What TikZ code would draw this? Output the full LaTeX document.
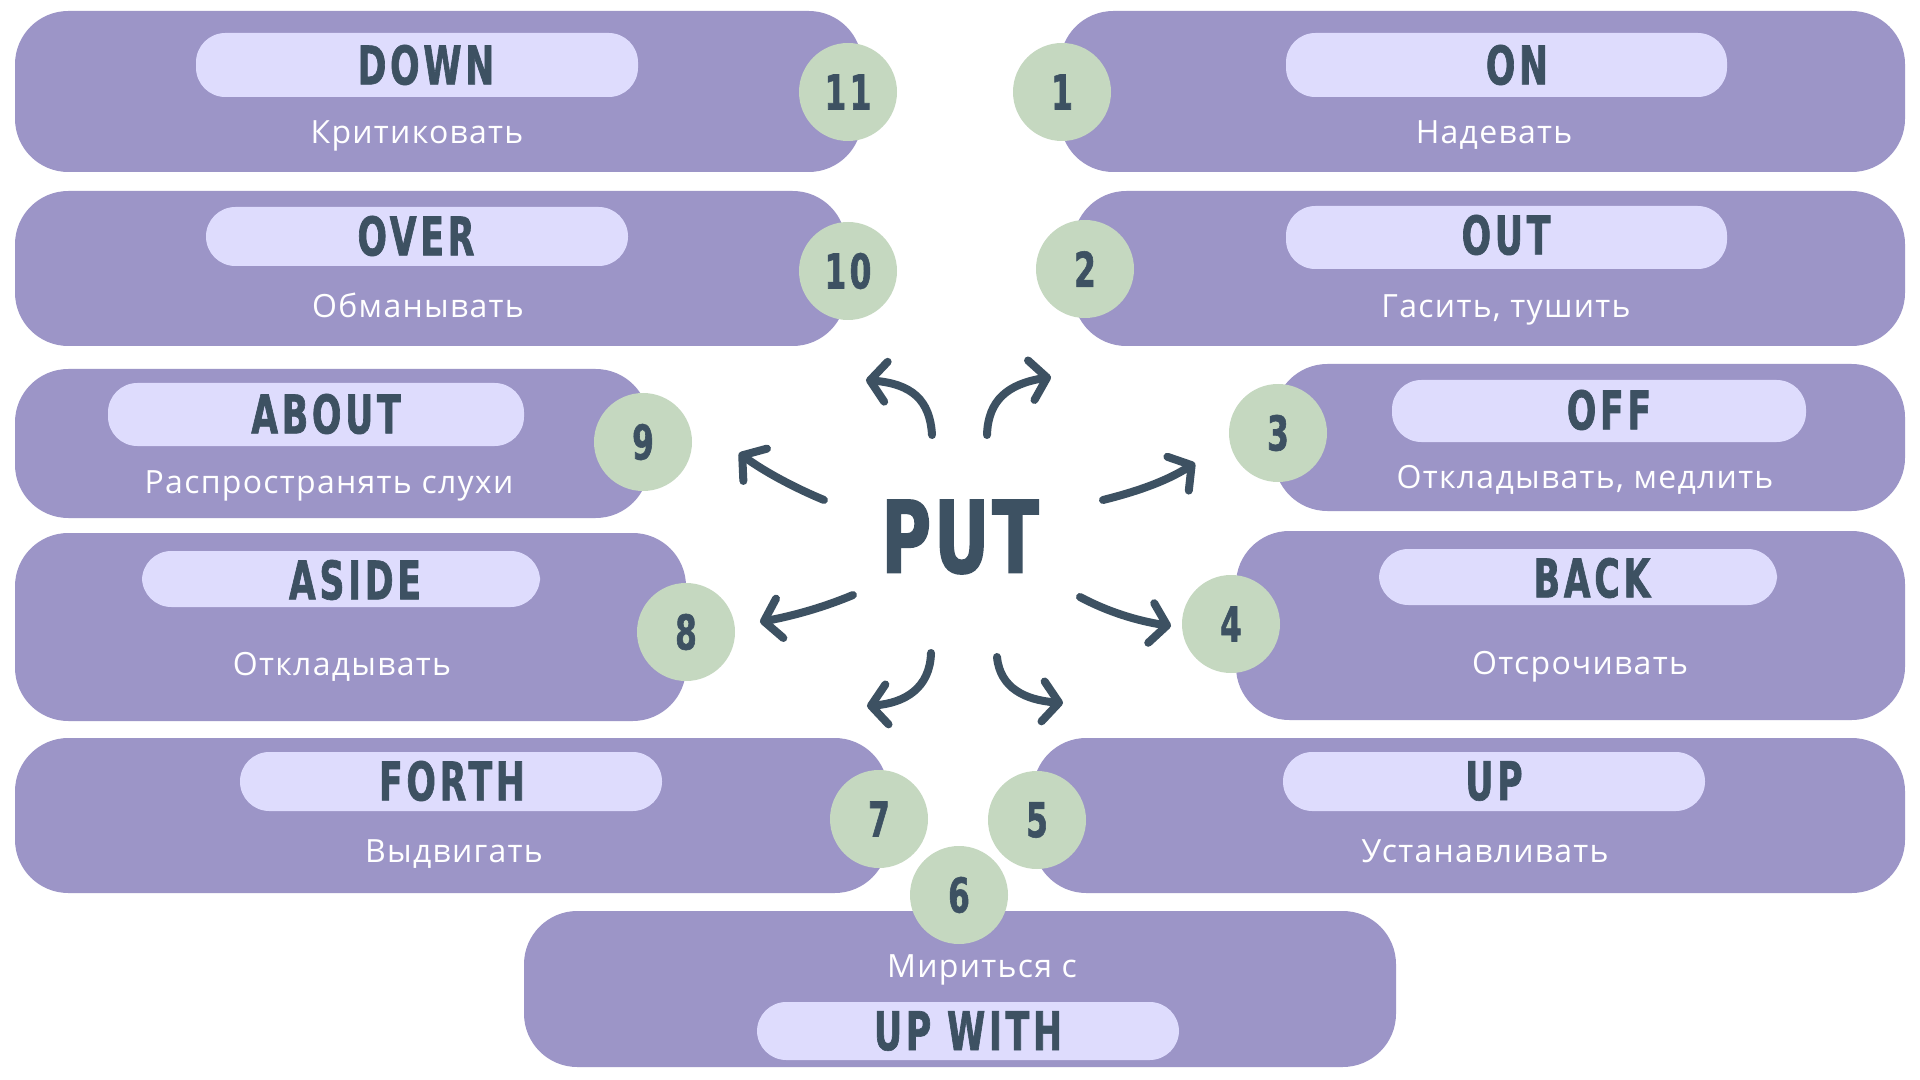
\documentclass[tikz,border=0pt]{standalone}
\usepackage{fontspec}
\setmainfont{Open Sans}
\newfontfamily\headfont[FakeStretch=0.65,LetterSpace=7,FakeBold=1.2]{DejaVu Sans}
\newfontfamily\putfont[FakeStretch=0.68,LetterSpace=3,FakeBold=1.5]{DejaVu Sans}
\newfontfamily\rufont[LetterSpace=4]{Open Sans}
\usetikzlibrary{arrows.meta}
\definecolor{boxc}{HTML}{9C95C7}
\definecolor{pillc}{HTML}{DEDCFD}
\definecolor{circc}{HTML}{C5D8C0}
\definecolor{darkc}{HTML}{3D5162}
\tikzset{
  box/.style={fill=boxc, draw=none, rounded corners=40pt, inner sep=0pt},
  pill/.style={fill=pillc, draw=none, rounded corners=22pt, inner sep=0pt},
  numc/.style={circle, fill=circc, draw=none, minimum size=73.5pt, inner sep=0pt,
    text=darkc, font=\headfont\bfseries\fontsize{36}{36}\selectfont},
  head/.style={text=darkc, inner sep=0pt, font=\headfont\bfseries\fontsize{40}{40}\selectfont},
  ru/.style={text=white, inner sep=0pt, anchor=base, font=\rufont\fontsize{24}{24}\selectfont},
  arr/.style={draw=darkc, line width=6pt, line cap=round,
    -{Straight Barb[length=12pt, width=30pt, round]}},
}
\newcommand\rbox[5]{\node[box, minimum width={(#4-#2)*0.75pt}, minimum height={(#5-#3)*0.75pt}] (#1) at ({(#2+#4)/2},{(#3+#5)/2}) {};}
\newcommand\rpill[5]{\node[pill, minimum width={(#4-#2)*0.75pt}, minimum height={(#5-#3)*0.75pt}] (#1) at ({(#2+#4)/2},{(#3+#5)/2}) {};}
\begin{document}
\begin{tikzpicture}[x=0.75pt,y=-0.75pt]
\useasboundingbox[fill=white] (0,0) rectangle (1920,1080);
% boxes
\rbox{bDOWN}{15}{11}{862}{172}
\rbox{bOVER}{15}{191}{846}{346}
\rbox{bABOUT}{15}{369}{649}{518}
\rbox{bASIDE}{15}{533}{686}{721}
\rbox{bFORTH}{15}{738}{888}{893}
\rbox{bUPWITH}{524}{911}{1396}{1067}
\rbox{bON}{1060}{11}{1905}{172}
\rbox{bOUT}{1073}{191}{1905}{346}
\rbox{bOFF}{1274}{364}{1905}{511}
\rbox{bBACK}{1236}{531}{1905}{720}
\rbox{bUP}{1033}{738}{1905}{893}
% pills
\rpill{pDOWN}{196}{33}{638}{97}
\rpill{pOVER}{206}{207}{628}{266}
\rpill{pABOUT}{108}{383}{524}{446}
\rpill{pASIDE}{142}{551}{540}{607}
\rpill{pFORTH}{240}{752}{662}{811}
\rpill{pUPWITH}{757}{1002}{1179}{1060}
\rpill{pON}{1286}{33}{1727}{97}
\rpill{pOUT}{1286}{206}{1727}{269}
\rpill{pOFF}{1392}{380}{1806}{442}
\rpill{pBACK}{1379}{549}{1777}{605}
\rpill{pUP}{1283}{752}{1705}{811}
% heads
\node[head] (tDOWN) at (426,65) {DOWN};
\node[head] (tOVER) at (416,236) {OVER};
\node[head] (tABOUT) at (326,414) {ABOUT};
\node[head] (tASIDE) at (355,580) {ASIDE};
\node[head] (tFORTH) at (452,781) {FORTH};
\node[head] (tUPWITH) at (968,1031) {UP WITH};
\node[head] (tON) at (1517,65) {ON};
\node[head] (tOUT) at (1506,235) {OUT};
\node[head] (tOFF) at (1609,410) {OFF};
\node[head] (tBACK) at (1592,578) {BACK};
\node[head] (tUP) at (1494,781) {UP};
% russian
\node[ru] (rDOWN) at (417,144) {Критиковать};
\node[ru] (rOVER) at (418,318) {Обманывать};
\node[ru] (rABOUT) at (329,493) {Распространять слухи};
\node[ru] (rASIDE) at (342,675) {Откладывать};
\node[ru] (rFORTH) at (454,862) {Выдвигать};
\node[ru] (rUPWITH) at (982,977) {Мириться с};
\node[ru] (rON) at (1494,144) {Надевать};
\node[ru] (rOUT) at (1506,318) {Гасить, тушить};
\node[ru] (rOFF) at (1585,488) {Откладывать, медлить};
\node[ru] (rBACK) at (1580,674) {Отсрочивать};
\node[ru] (rUP) at (1485,862) {Устанавливать};
% circles
\node[numc] (c11) at (848,92) {11};
\node[numc] (c10) at (848,271) {10};
\node[numc] (c9) at (643,442) {9};
\node[numc] (c8) at (686,632) {8};
\node[numc] (c7) at (879,819) {7};
\node[numc] (c6) at (959,895) {6};
\node[numc] (c1) at (1062,92) {1};
\node[numc] (c2) at (1085,269) {2};
\node[numc] (c3) at (1278,433) {3};
\node[numc] (c4) at (1231,624) {4};
\node[numc] (c5) at (1037,820) {5};
% center
\node[text=darkc, inner sep=0pt, font=\putfont\bfseries\fontsize{75}{75}\selectfont] (put) at (960,537) {PUT};
% arrow end points
\coordinate (a1s) at (932,435); \coordinate (a1e) at (866,380);
\coordinate (a2s) at (987,435); \coordinate (a2e) at (1051,377);
\coordinate (a3s) at (824,500); \coordinate (a3e) at (739,453);
\coordinate (a4s) at (1103,500); \coordinate (a4e) at (1195,463);
\coordinate (a5s) at (853,595); \coordinate (a5e) at (760,622);
\coordinate (a6s) at (1080,597); \coordinate (a6e) at (1171,626);
\coordinate (a7s) at (931,653); \coordinate (a7e) at (867,706);
\coordinate (a8s) at (997,657); \coordinate (a8e) at (1063,703);
\draw[arr] (a1s) .. controls (930,400) and (912,384) .. (a1e);
\draw[arr] (a2s) .. controls (988,400) and (1008,384) .. (a2e);
\draw[arr] (a3s) .. controls (795,488) and (765,472) .. (a3e);
\draw[arr] (a4s) .. controls (1135,492) and (1165,482) .. (a4e);
\draw[arr] (a5s) .. controls (822,608) and (792,616) .. (a5e);
\draw[arr] (a6s) .. controls (1108,612) and (1138,621) .. (a6e);
\draw[arr] (a7s) .. controls (930,688) and (905,703) .. (a7e);
\draw[arr] (a8s) .. controls (1000,688) and (1025,700) .. (a8e);
\end{tikzpicture}
\end{document}
